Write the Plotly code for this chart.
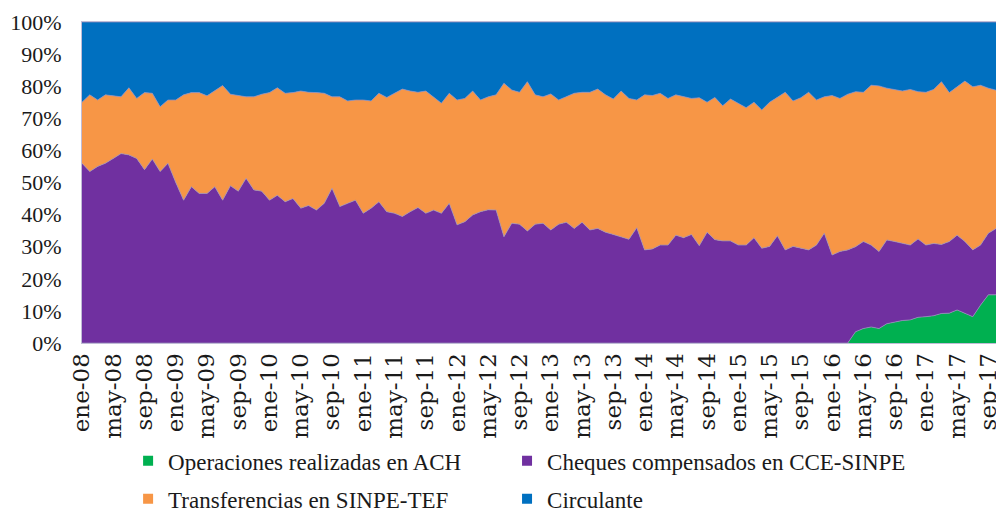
import plotly.graph_objects as go

# ---- categories (monthly, ene-08 .. nov-17) ----
month_abbr = ["ene", "feb", "mar", "abr", "may", "jun", "jul", "ago", "sep", "oct", "nov", "dic"]
months = [f"{m}-{y:02d}" for y in range(8, 18) for m in month_abbr][:119]
tick_labels = months[::4]
y_ticks = list(range(0, 101, 10))
y_tick_text = [f"{v}%" for v in y_ticks]

# ---- series values (share of total, %) ----
ach = [0, 0, 0, 0, 0, 0, 0, 0, 0, 0,
       0, 0, 0, 0, 0, 0, 0, 0, 0, 0,
       0, 0, 0, 0, 0, 0, 0, 0, 0, 0,
       0, 0, 0, 0, 0, 0, 0, 0, 0, 0,
       0, 0, 0, 0, 0, 0, 0, 0, 0, 0,
       0, 0, 0, 0, 0, 0, 0, 0, 0, 0,
       0, 0, 0, 0, 0, 0, 0, 0, 0, 0,
       0, 0, 0, 0, 0, 0, 0, 0, 0, 0,
       0, 0, 0, 0, 0, 0, 0, 0, 0, 0,
       0, 0, 0, 0, 0, 0, 0, 0, 0, 3.5,
       4.5, 5, 4.5, 6, 6.5, 7, 7.2, 8, 8.2, 8.5,
       9.2, 9.3, 10.3, 9.2, 8.2, 11.8, 15, 15, 15]

cheques = [56, 53.4, 55, 56, 57.5, 59, 58.6, 57.5, 54, 57.3,
           53.4, 56, 50, 44.5, 48.7, 46.6, 46.6, 48.7, 44.5, 49,
           47.3, 51.3, 47.7, 47.3, 44.5, 46, 44, 45, 42, 42.8,
           41.4, 43.5, 48.2, 42.5, 43.5, 44.5, 40.4, 42, 44, 40.9,
           40.4, 39.4, 40.9, 42.2, 40.4, 41.4, 40.4, 43.5, 36.8, 37.8,
           39.9, 40.9, 41.5, 41.4, 33.1, 37.3, 37, 34.9, 37, 37.3,
           35.2, 37, 37.6, 35.7, 37.6, 35.2, 35.7, 34.5, 33.8, 33,
           32.3, 35.9, 29, 29.3, 30.5, 30.5, 33.6, 32.8, 33.8, 30.3,
           34.5, 32.2, 31.8, 31.8, 30.5, 30.5, 32.8, 29.5, 30.1, 33.4,
           29, 30.1, 29.5, 29, 30.5, 34.2, 27.4, 28.5, 29, 26.5,
           27.1, 25.5, 24, 26.1, 25.1, 24, 23.3, 24.4, 22.3, 22.5,
           21.5, 22.3, 23.3, 22.4, 20.8, 18.7, 19.2, 20.7, 21]

tef = [19, 23.9, 20.7, 21.3, 19.5, 17.7, 20.9, 18.7, 24, 20.5,
       20.2, 19.7, 25.7, 32.8, 29.3, 31.4, 30.4, 29.8, 35.7, 28.5,
       29.7, 25.4, 29, 30.2, 33.5, 33.5, 33.8, 33, 36.5, 35.3,
       36.6, 34.3, 28.5, 34.2, 31.9, 31.2, 35.3, 33.4, 33.8, 35.6,
       37.4, 39.7, 37.6, 35.9, 38.1, 35.3, 34.3, 34.3, 38.9, 38.4,
       38.6, 34.8, 35.2, 35.9, 47.8, 41.5, 41.1, 46.5, 40.3, 39.4,
       42.4, 38.7, 39.1, 42.1, 40.5, 42.9, 43.4, 42.8, 42.2, 45.5,
       43.9, 39.8, 48.3, 47.8, 47.3, 45.7, 43.7, 43.9, 42.4, 46.1,
       40.5, 44.3, 42.1, 44.2, 44.2, 42.8, 42.2, 43.1, 44.9, 43.1,
       49.1, 45.3, 46.9, 49.1, 45.2, 42.5, 49.7, 47.7, 48.5, 48.3,
       46.5, 49.8, 51.6, 47.3, 47.4, 47.5, 48.5, 45.9, 47.6, 48,
       50.7, 46.4, 46.2, 50, 50.8, 49.8, 45.2, 43.1, 42.1]

circulante = [25, 22.7, 24.3, 22.7, 23, 23.3, 20.5, 23.8, 22, 22.2,
              26.4, 24.3, 24.3, 22.7, 22, 22, 23, 21.5, 19.8, 22.5,
              23, 23.3, 23.3, 22.5, 22, 20.5, 22.2, 22, 21.5, 21.9,
              22, 22.2, 23.3, 23.3, 24.6, 24.3, 24.3, 24.6, 22.2, 23.5,
              22.2, 20.9, 21.5, 21.9, 21.5, 23.3, 25.3, 22.2, 24.3, 23.8,
              21.5, 24.3, 23.3, 22.7, 19.1, 21.2, 21.9, 18.6, 22.7, 23.3,
              22.4, 24.3, 23.3, 22.2, 21.9, 21.9, 20.9, 22.7, 24, 21.5,
              23.8, 24.3, 22.7, 22.9, 22.2, 23.8, 22.7, 23.3, 23.8, 23.6,
              25, 23.5, 26.1, 24, 25.3, 26.7, 25, 27.4, 25, 23.5,
              21.9, 24.6, 23.6, 21.9, 24.3, 23.3, 22.9, 23.8, 22.5, 21.7,
              21.9, 19.7, 19.9, 20.6, 21, 21.5, 21, 21.7, 21.9, 21,
              18.6, 22, 20.2, 18.4, 20.2, 19.7, 20.6, 21.2, 21.9]

series_names = ["Operaciones realizadas en ACH", "Cheques compensados en CCE-SINPE",
                "Transferencias en SINPE-TEF", "Circulante"]
series_values = [ach, cheques, tef, circulante]
colors = ["#00B050", "#7030A0", "#F79646", "#0070C0"]
legend_ids = ["legend", "legend2", "legend", "legend2"]

SERIF = "Liberation Serif, Times New Roman, serif"

fig = go.Figure()
for name, vals, col in zip(series_names, series_values, colors):
    fig.add_trace(go.Scatter(
        x=months, y=vals, name=name, mode="lines",
        stackgroup="one", groupnorm="percent",
        line=dict(width=1, color="rgba(150,140,185,0.75)"),
        fillcolor=col, showlegend=False, hoverinfo="skip",
    ))

# legend entries as small squares (two columns)
for name, col, lg in zip(series_names, colors, legend_ids):
    fig.add_trace(go.Scatter(
        x=[None], y=[None], name=name, mode="markers",
        marker=dict(symbol="square", size=10, color=col),
        showlegend=True, legend=lg, legendgroup=name,
    ))

legend_common = dict(
    orientation="v", traceorder="grouped", tracegroupgap=5,
    xanchor="left", y=-0.300, yanchor="top",
    font=dict(family=SERIF, size=23, color="#1a1a1a"),
    bgcolor="rgba(0,0,0,0)", itemclick=False, itemdoubleclick=False,
)

fig.update_layout(
    width=996, height=506,
    margin=dict(l=74, r=0, t=14, b=171, autoexpand=False),
    paper_bgcolor="white", plot_bgcolor="white",
    showlegend=True,
    legend=dict(x=0.050, **legend_common),
    legend2=dict(x=0.461, **legend_common),
)

fig.update_xaxes(
    type="category", categoryorder="array", categoryarray=months,
    range=[0, len(months) - 1], automargin=False,
    tickmode="array", tickvals=tick_labels, ticktext=tick_labels,
    tickangle=-90, ticks="",
    tickfont=dict(family="DejaVu Serif, serif", size=23, color="#1a1a1a"),
    showgrid=False, zeroline=False,
    showline=True, linecolor="#c0bcd6", linewidth=1, mirror=True,
)
fig.update_yaxes(
    range=[0, 100], automargin=False,
    tickmode="array", tickvals=y_ticks, ticktext=y_tick_text, ticks="",
    tickfont=dict(family=SERIF, size=22, color="#1a1a1a"),
    ticklabelstandoff=15,
    showgrid=False, zeroline=False,
    showline=True, linecolor="#c0bcd6", linewidth=1, mirror=True,
)

fig.write_html("out.html")
